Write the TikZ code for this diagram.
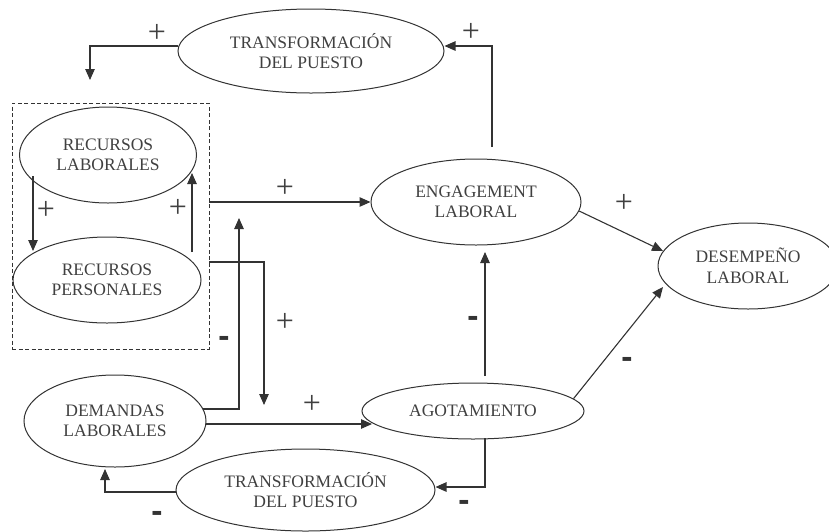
\documentclass[tikz,border=0pt]{standalone}
\usepackage{fontspec}
\setmainfont{Liberation Serif}
\newfontfamily\signfont{DejaVu Sans}
\usetikzlibrary{arrows.meta,shapes.geometric}
\definecolor{txt}{HTML}{404040}
\definecolor{ln}{HTML}{333333}
\begin{document}
\begin{tikzpicture}[x=1pt,y=-1pt,
 oval/.style={ellipse, draw=ln, line width=1pt, inner sep=0pt, align=center, text=txt, font=\fontsize{17.5}{20.5}\selectfont},
 conn/.style={draw=ln, line width=1.1pt, -{Triangle[length=11pt,width=9.5pt]}},
 plus/.style={text=txt, font=\fontsize{32}{32}\selectfont, inner sep=0pt},
 minus/.style={text=ln, font=\signfont\bfseries\fontsize{28}{28}\selectfont, inner sep=0pt}]
\useasboundingbox (0,0) rectangle (829,531);

% nodes
\node[oval, minimum width=266pt, minimum height=84pt] (tt) at (311,51) {TRANSFORMACIÓN\\DEL PUESTO};
\node[oval, minimum width=177pt, minimum height=96pt] (rl) at (108,155) {RECURSOS\\LABORALES};
\node[oval, minimum width=188pt, minimum height=86pt] (rp) at (107,280) {RECURSOS\\PERSONALES};
\node[oval, minimum width=182pt, minimum height=92pt] (dl) at (115,421) {DEMANDAS\\LABORALES};
\node[oval, minimum width=259pt, minimum height=82pt] (bt) at (305.5,490) {TRANSFORMACIÓN\\DEL PUESTO};
\node[oval, minimum width=222pt, minimum height=56pt] (ag) at (473,411) {AGOTAMIENTO};
\node[oval, minimum width=210pt, minimum height=86pt] (en) at (476,202) {ENGAGEMENT\\LABORAL};
\node[oval, minimum width=180pt, minimum height=86pt] (de) at (748,266) {DESEMPEÑO\\LABORAL};
\node[draw=ln, dash pattern=on 4pt off 2.5pt, line width=0.9pt, minimum width=197pt, minimum height=246pt, inner sep=0pt] (box) at (110.5,226) {};

% free ends
\coordinate (a1) at (90,80);
\coordinate (e1) at (492,147);
\coordinate (r1) at (33,176);
\coordinate (r2) at (33,251);
\coordinate (r3) at (192,252);
\coordinate (r4) at (192,173);
\coordinate (p1) at (209,262);
\coordinate (p2) at (264,405);
\coordinate (d1) at (203,409);
\coordinate (d2) at (239,218);
\coordinate (d3) at (206,424);
\coordinate (d4) at (372,424);
\coordinate (g0) at (485,376);
\coordinate (g2) at (485,252);
\coordinate (g1) at (485,438);
\coordinate (g3) at (663,287);
\coordinate (q1) at (105,469);

% connectors
\draw[conn] ([yshift=5pt]tt.west) -| (a1);
\draw[conn] (e1) |- ([yshift=5pt]tt.east);
\draw[conn] (r1) -- (r2);
\draw[conn] (r3) -- (r4);
\draw[conn] (box.east |- en.west) -- (en.west);
\draw[conn] (p1) -| (p2);
\draw[conn] (d1) -| (d2);
\draw[conn] (d3) -- (d4);
\draw[conn] (g0) -- (g2);
\draw[conn] (en.-5) -- (de.170);
\draw[conn] (ag.7) -- (g3);
\draw[conn] (g1) |- ([yshift=3pt]bt.east);
\draw[conn] ([yshift=-2pt]bt.west) -| (q1);

% signs
\node[plus] (s1) at (157,33) {+};
\node[plus] (s2) at (471,32) {+};
\node[plus] (s3) at (285,188) {+};
\node[plus] (s4) at (624,203) {+};
\node[plus] (s5) at (46,210) {+};
\node[plus] (s6) at (178,208) {+};
\node[plus] (s7) at (285,322) {+};
\node[plus] (s8) at (312,404) {+};
\node[minus] (m1) at (224,341) {-};
\node[minus] (m2) at (473,321) {-};
\node[minus] (m3) at (627,362) {-};
\node[minus] (m4) at (464,505) {-};
\node[minus] (m5) at (157,516) {-};
\end{tikzpicture}
\end{document}
